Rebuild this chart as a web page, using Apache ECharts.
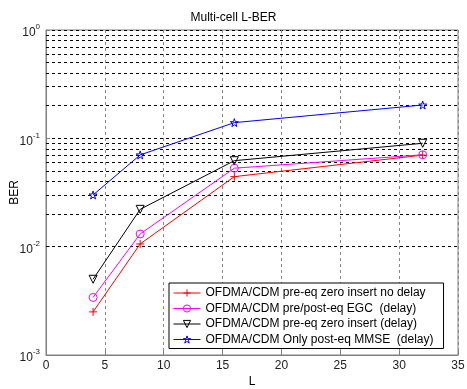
<!DOCTYPE html>
<html>
<head>
<meta charset="utf-8">
<script src="https://cdn.jsdelivr.net/npm/echarts@6/dist/echarts.min.js"></script>
<style>
  html, body { margin: 0; padding: 0; background: #fff; }
  #chart { width: 467px; height: 389px; }
</style>
</head>
<body>
<div id="chart"></div>
<script>
// data
const L = [4, 8, 16, 32];
const zeroInsertNoDelay = [0.0025, 0.0106, 0.0443, 0.0700];
const egcDelay = [0.0034, 0.0131, 0.0530, 0.0705];
const zeroInsertDelay = [0.0050, 0.0221, 0.0622, 0.0900];
const mmseDelay = [0.0300, 0.0703, 0.1396, 0.2030];
const seriesNames = [
  'OFDMA/CDM pre-eq zero insert no delay',
  'OFDMA/CDM pre/post-eq EGC  (delay)',
  'OFDMA/CDM pre-eq zero insert (delay)',
  'OFDMA/CDM Only post-eq MMSE  (delay)'
];

// minor log grid lines (2..9 x 10^k)
const minorLines = [];
[-3, -2, -1].forEach(function (k) {
  for (let m = 2; m <= 9; m++) minorLines.push({ yAxis: m * Math.pow(10, k) });
});

const font = 'Liberation Sans, Arial, sans-serif';
const pair = (ys) => L.map((x, i) => [x, ys[i]]);

// hollow marker shapes, 1px outline like matlab
const plus = 'path://M5,0L5,10M0,5L10,5';
const circle = 'path://M10,5A5,5 0 1 1 0,5A5,5 0 1 1 10,5Z';
const triDown = 'path://M0,0L10,0L5,9Z';
const star = 'path://M5,0L6.2,3.6L10,3.6L7,5.9L8.1,9.5L5,7.3L1.9,9.5L3,5.9L0,3.6L3.8,3.6Z';
const hollow = 'rgba(255,255,255,0)';

const myChart = echarts.init(document.getElementById('chart'));

const options = {
  animation: false,
  backgroundColor: '#fff',
  textStyle: { fontFamily: font },
  title: {
    text: 'Multi-cell L-BER',
    left: 'center',
    top: 7,
    textStyle: { fontSize: 12, fontWeight: 'normal', color: '#000', fontFamily: font }
  },
  grid: {
    left: 46, top: 30, right: 9, bottom: 34,
    outerBoundsMode: 'none',
    containLabel: false,
    show: true,
    borderColor: '#808080',
    borderWidth: 1
  },
  legend: {
    orient: 'vertical',
    left: 169,
    top: 283,
    backgroundColor: '#fff',
    borderColor: '#000',
    borderWidth: 1,
    padding: [4, 10, 3, 4],
    itemWidth: 27,
    itemHeight: 9,
    itemGap: 3.5,
    lineStyle: { width: 1 },
    itemStyle: { borderWidth: 1 },
    textStyle: { fontSize: 12, lineHeight: 12, color: '#000', fontFamily: font },
    data: seriesNames
  },
  xAxis: {
    type: 'value',
    min: 0,
    max: 35,
    interval: 5,
    name: 'L',
    nameLocation: 'middle',
    nameGap: 21,
    nameMoveOverlap: false,
    nameTextStyle: { fontSize: 12, color: '#000' },
    axisLine: { lineStyle: { color: '#808080' } },
    axisTick: { inside: true, length: 4, lineStyle: { color: '#808080' } },
    axisLabel: { fontSize: 12, color: '#222', margin: 5 },
    splitLine: { show: true, lineStyle: { color: '#888', type: [3, 3] } }
  },
  yAxis: {
    type: 'log',
    logBase: 10,
    min: 0.001,
    max: 1,
    name: 'BER',
    nameLocation: 'middle',
    nameGap: 25,
    nameMoveOverlap: false,
    nameTextStyle: { fontSize: 12, color: '#000' },
    axisLine: { lineStyle: { color: '#808080' } },
    axisTick: { inside: true, length: 4, lineStyle: { color: '#808080' } },
    axisLabel: {
      margin: 6,
      formatter: function (v) {
        return '{b|10}{s|' + Math.round(Math.log10(v)) + '}';
      },
      rich: {
        b: { fontSize: 12, color: '#222', fontFamily: font, padding: [6, 0, 0, 0] },
        s: { fontSize: 8, color: '#222', fontFamily: font, verticalAlign: 'bottom', padding: [0, 0, 8, 0] }
      }
    },
    splitLine: { show: true, lineStyle: { color: '#000', type: [3, 3] } }
  },
  series: [
    {
      name: seriesNames[0],
      type: 'line',
      data: pair(zeroInsertNoDelay),
      symbol: plus,
      symbolSize: 8,
      itemStyle: { color: '#ff0000', borderColor: '#ff0000', borderWidth: 1 },
      lineStyle: { color: '#ff0000', width: 1 },
      z: 4,
      markLine: {
        silent: true,
        symbol: 'none',
        label: { show: false },
        lineStyle: { color: '#000', type: [3, 3], width: 1 },
        data: minorLines,
        z: 1
      }
    },
    {
      name: seriesNames[1],
      type: 'line',
      data: pair(egcDelay),
      symbol: circle,
      symbolSize: 8,
      itemStyle: { color: hollow, borderColor: '#ff00ff', borderWidth: 1 },
      lineStyle: { color: '#ff00ff', width: 1 },
      z: 4
    },
    {
      name: seriesNames[2],
      type: 'line',
      data: pair(zeroInsertDelay),
      symbol: triDown,
      symbolSize: 8,
      itemStyle: { color: hollow, borderColor: '#000', borderWidth: 1 },
      lineStyle: { color: '#000', width: 1 },
      z: 4
    },
    {
      name: seriesNames[3],
      type: 'line',
      data: pair(mmseDelay),
      symbol: star,
      symbolSize: 8,
      itemStyle: { color: hollow, borderColor: '#0000ff', borderWidth: 1 },
      lineStyle: { color: '#0000ff', width: 1 },
      z: 4
    }
  ]
};

myChart.setOption(options);
</script>
</body>
</html>
